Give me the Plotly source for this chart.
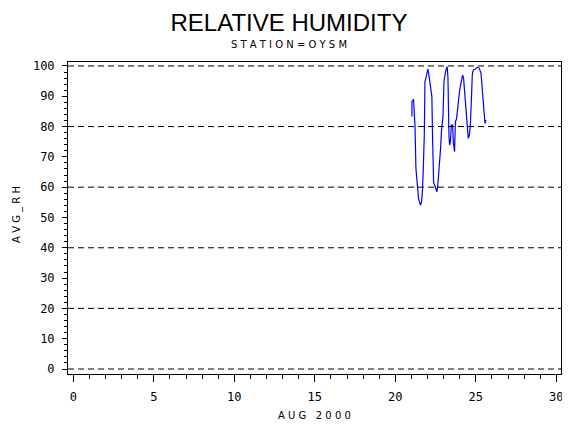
import plotly.graph_objects as grphObj

# hourly-ish relative humidity readings, Aug 2000 (day of month)
days = [21.03, 21.03, 21.13, 21.16, 21.22, 21.28, 21.34, 21.44, 21.50, 21.57, 21.63, 21.68,
        21.73, 21.80, 21.84, 21.90, 21.96, 22.03, 22.07, 22.13, 22.19, 22.27, 22.31, 22.33,
        22.38, 22.44, 22.50, 22.58, 22.63, 22.73, 22.81, 22.87, 22.96, 23.02, 23.12, 23.22,
        23.27, 23.33, 23.37, 23.42, 23.48, 23.56, 23.60, 23.68, 23.73, 23.80, 23.87, 23.95,
        24.03, 24.09, 24.18, 24.24, 24.30, 24.38, 24.45, 24.53, 24.60, 24.66, 24.72, 24.78,
        24.84, 24.97, 25.11, 25.21, 25.32, 25.42, 25.51, 25.57, 25.63]
avg_rh = [83.3, 88.2, 89.0, 87.1, 80.5, 66.2, 61.8, 56.3, 55.0, 54.1, 55.2, 58.5,
          65.1, 77.2, 94.8, 96.5, 98.1, 99.0, 97.6, 95.4, 93.7, 89.9, 77.2, 64.5,
          61.5, 60.7, 59.6, 58.5, 60.2, 66.7, 72.8, 78.9, 83.3, 94.8, 98.1, 99.8,
          96.0, 77.2, 73.9, 75.0, 80.5, 80.5, 75.0, 71.7, 81.6, 82.5, 87.1, 89.9,
          93.2, 95.4, 97.0, 95.9, 92.1, 88.2, 81.0, 76.1, 77.2, 80.5, 88.2, 97.0,
          98.7, 99.0, 99.6, 99.3, 97.6, 91.0, 87.1, 81.0, 82.2]

y_ticks = [0, 10, 20, 30, 40, 50, 60, 70, 80, 90, 100]
x_ticks = [0, 5, 10, 15, 20, 25, 30]

mono = "DejaVu Sans Mono"
sans = "DejaVu Sans"

# page body adds an 8px offset, so the figure is drawn 8px smaller
W, H = 562, 422
ml, mr, mt, mb = 60, 9, 54, 56

fig = grphObj.Figure()
fig.add_trace(grphObj.Scatter(x=days, y=avg_rh, mode="lines",
                              line=dict(color="#0000ff", width=1.2), showlegend=False))

# dashed reference lines every 20
for v in [0, 20, 40, 60, 80, 100]:
    fig.add_hline(y=v, line=dict(color="black", width=1, dash="6px,4px"))

fig.update_xaxes(range=[-0.33, 30.29], tickvals=x_ticks, ticks="outside", ticklen=7,
                 tickcolor="black", showgrid=False, zeroline=False, automargin=False,
                 showline=True, linecolor="black", linewidth=1, mirror=True,
                 minor=dict(dtick=1, ticks="outside", ticklen=4, tickcolor="black", showgrid=False),
                 tickfont=dict(family=mono, size=12, color="black"), ticklabelstandoff=5)
fig.update_yaxes(range=[-1.65, 101.3], tickvals=y_ticks, ticks="outside", ticklen=5,
                 tickcolor="black", showgrid=False, zeroline=False, automargin=False,
                 showline=True, linecolor="black", linewidth=1, mirror=True,
                 minor=dict(dtick=2, ticks="outside", ticklen=3, tickcolor="black", showgrid=False),
                 tickfont=dict(family=mono, size=12, color="black"), ticklabelstandoff=5)

plot_w = W - ml - mr
fig.update_layout(
    width=W, height=H,
    margin=dict(l=ml, r=mr, t=mt, b=mb, autoexpand=False),
    plot_bgcolor="white", paper_bgcolor="white",
    title=dict(text="RELATIVE HUMIDITY", x=0.5, xanchor="center", xref="container",
               y=1 - 15 / H, yref="container", yanchor="middle", automargin=False,
               font=dict(family="Liberation Sans", size=24, color="black")),
    annotations=[
        dict(text="S T A T I O N = O Y S M", x=(W / 2 - ml) / plot_w, y=1, yshift=18,
             xref="paper", yref="paper", yanchor="middle", showarrow=False,
             font=dict(family=sans, size=10, color="black")),
        dict(text="A U G   2 0 0 0", x=0.5, y=0, yshift=-41,
             xref="paper", yref="paper", yanchor="middle", showarrow=False,
             font=dict(family=sans, size=10, color="black")),
        dict(text="A V G _ R H", x=0, xshift=-51, y=0.51, textangle=-90,
             xref="paper", yref="paper", xanchor="center", yanchor="middle", showarrow=False,
             font=dict(family=sans, size=10, color="black")),
    ],
)

fig.write_html("out.html")
